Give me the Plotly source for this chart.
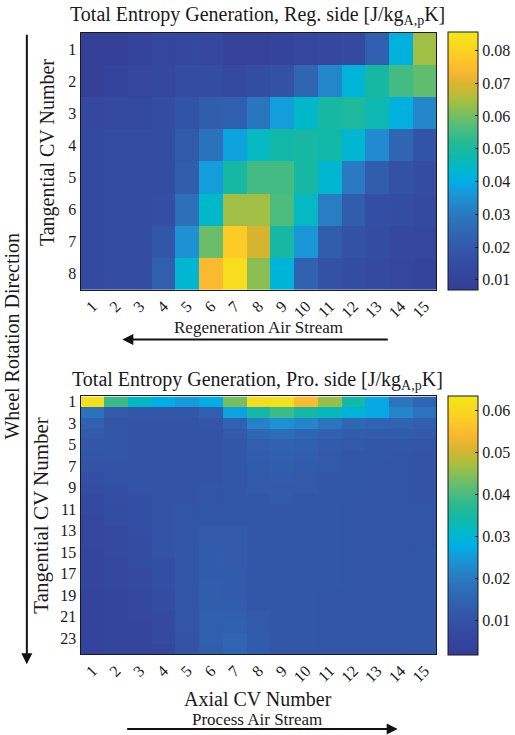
import plotly.graph_objects as go

# Axial control volumes (columns) and tangential control volumes (rows)
axial_cv = list(range(1, 16))
reg_tangential_cv = list(range(1, 9))
pro_tangential_cv = list(range(1, 25))

# Total entropy generation on the regeneration side [J/kg K], rows = tangential CV 1..8
reg_entropy = [
    [0.0085, 0.0088, 0.0105, 0.012, 0.013, 0.012, 0.0095, 0.0095, 0.010, 0.012, 0.013, 0.014, 0.022, 0.041, 0.064],
    [0.009, 0.011, 0.012, 0.013, 0.015, 0.015, 0.014, 0.015, 0.017, 0.024, 0.033, 0.042, 0.049, 0.055, 0.058],
    [0.013, 0.014, 0.014, 0.015, 0.018, 0.021, 0.022, 0.029, 0.037, 0.044, 0.049, 0.050, 0.047, 0.041, 0.033],
    [0.014, 0.015, 0.015, 0.015, 0.020, 0.028, 0.038, 0.045, 0.048, 0.049, 0.048, 0.043, 0.034, 0.024, 0.018],
    [0.014, 0.015, 0.015, 0.015, 0.021, 0.037, 0.049, 0.055, 0.055, 0.049, 0.043, 0.030, 0.021, 0.017, 0.015],
    [0.014, 0.015, 0.015, 0.016, 0.027, 0.044, 0.064, 0.064, 0.056, 0.045, 0.031, 0.021, 0.016, 0.015, 0.014],
    [0.014, 0.015, 0.015, 0.019, 0.035, 0.059, 0.078, 0.069, 0.049, 0.036, 0.021, 0.017, 0.015, 0.013, 0.012],
    [0.014, 0.015, 0.015, 0.022, 0.043, 0.074, 0.083, 0.062, 0.042, 0.023, 0.017, 0.015, 0.014, 0.012, 0.011],
]

# Total entropy generation on the process side [J/kg K], rows = tangential CV 1..24
pro_entropy = [
    [0.0615, 0.039, 0.0314, 0.0277, 0.0252, 0.0277, 0.0437, 0.061, 0.062, 0.0548, 0.046, 0.0345, 0.027, 0.019, 0.0150],
    [0.0180, 0.0118, 0.0112, 0.0112, 0.0112, 0.0137, 0.0264, 0.0345, 0.0388, 0.0345, 0.032, 0.0295, 0.027, 0.022, 0.0185],
    [0.0140, 0.0106, 0.0100, 0.0100, 0.0100, 0.0106, 0.0145, 0.0215, 0.024, 0.0221, 0.0190, 0.0160, 0.0150, 0.0145, 0.0137],
    [0.0118, 0.0106, 0.0100, 0.0100, 0.0100, 0.0100, 0.0118, 0.0160, 0.0170, 0.0155, 0.0140, 0.0130, 0.0124, 0.0124, 0.0118],
    [0.0112, 0.0106, 0.0100, 0.0100, 0.0100, 0.0100, 0.0112, 0.0137, 0.0145, 0.0140, 0.0124, 0.0118, 0.0112, 0.0112, 0.0106],
    [0.0106, 0.0106, 0.0100, 0.0100, 0.0100, 0.0100, 0.0112, 0.0130, 0.0137, 0.0130, 0.0118, 0.0112, 0.0112, 0.0106, 0.0100],
    [0.0100, 0.0100, 0.0100, 0.0100, 0.0100, 0.0100, 0.0112, 0.0124, 0.0130, 0.0124, 0.0118, 0.0112, 0.0106, 0.0106, 0.0100],
    [0.0090, 0.0100, 0.0100, 0.0100, 0.0100, 0.0100, 0.0112, 0.0118, 0.0124, 0.0118, 0.0112, 0.0112, 0.0106, 0.0106, 0.0100],
    [0.0082, 0.0090, 0.0100, 0.0100, 0.0100, 0.0106, 0.0112, 0.0118, 0.0118, 0.0118, 0.0112, 0.0112, 0.0106, 0.0106, 0.0100],
    [0.0072, 0.0090, 0.0090, 0.0100, 0.0100, 0.0106, 0.0112, 0.0112, 0.0118, 0.0112, 0.0112, 0.0112, 0.0106, 0.0106, 0.0100],
    [0.0072, 0.0082, 0.0090, 0.0100, 0.0106, 0.0112, 0.0112, 0.0112, 0.0112, 0.0112, 0.0112, 0.0106, 0.0106, 0.0106, 0.0106],
    [0.0064, 0.0082, 0.0090, 0.0100, 0.0106, 0.0112, 0.0112, 0.0112, 0.0112, 0.0112, 0.0112, 0.0106, 0.0106, 0.0106, 0.0106],
    [0.0064, 0.0072, 0.0090, 0.0100, 0.0106, 0.0118, 0.0118, 0.0112, 0.0112, 0.0112, 0.0112, 0.0106, 0.0106, 0.0106, 0.0106],
    [0.0064, 0.0072, 0.0082, 0.0100, 0.0106, 0.0118, 0.0118, 0.0112, 0.0112, 0.0112, 0.0112, 0.0106, 0.0106, 0.0106, 0.0106],
    [0.0055, 0.0072, 0.0082, 0.0100, 0.0106, 0.0124, 0.0118, 0.0112, 0.0112, 0.0112, 0.0112, 0.0106, 0.0106, 0.0106, 0.0112],
    [0.0055, 0.0064, 0.0082, 0.0090, 0.0106, 0.0124, 0.0118, 0.0112, 0.0112, 0.0112, 0.0112, 0.0106, 0.0106, 0.0106, 0.0112],
    [0.0055, 0.0064, 0.0072, 0.0090, 0.0106, 0.0124, 0.0124, 0.0112, 0.0112, 0.0112, 0.0112, 0.0106, 0.0106, 0.0106, 0.0112],
    [0.0055, 0.0064, 0.0072, 0.0090, 0.0106, 0.0130, 0.0124, 0.0112, 0.0112, 0.0112, 0.0112, 0.0106, 0.0106, 0.0106, 0.0112],
    [0.0045, 0.0055, 0.0064, 0.0082, 0.0106, 0.0130, 0.0124, 0.0112, 0.0112, 0.0112, 0.0106, 0.0106, 0.0106, 0.0106, 0.0112],
    [0.0045, 0.0055, 0.0064, 0.0082, 0.0106, 0.0130, 0.0130, 0.0112, 0.0112, 0.0112, 0.0106, 0.0106, 0.0106, 0.0106, 0.0112],
    [0.0045, 0.0055, 0.0064, 0.0072, 0.0106, 0.0137, 0.0137, 0.0118, 0.0112, 0.0112, 0.0106, 0.0106, 0.0106, 0.0106, 0.0112],
    [0.0045, 0.0055, 0.0055, 0.0072, 0.0106, 0.0137, 0.0140, 0.0118, 0.0112, 0.0112, 0.0106, 0.0106, 0.0106, 0.0106, 0.0112],
    [0.0045, 0.0055, 0.0055, 0.0072, 0.0100, 0.0137, 0.0150, 0.0124, 0.0112, 0.0112, 0.0106, 0.0106, 0.0106, 0.0106, 0.0112],
    [0.0045, 0.0055, 0.0055, 0.0064, 0.0100, 0.0130, 0.0150, 0.0124, 0.0112, 0.0112, 0.0106, 0.0106, 0.0106, 0.0106, 0.0112],
]

# Colour limits of each panel
reg_range = [0.0068, 0.0855]
pro_range = [0.0018, 0.0634]
reg_ticks = [0.01, 0.02, 0.03, 0.04, 0.05, 0.06, 0.07, 0.08]
pro_ticks = [0.01, 0.02, 0.03, 0.04, 0.05, 0.06]
pro_ytick = list(range(1, 25, 2))

# Parula-style colour map
cmap_pos = [0.00, 0.08, 0.16, 0.24, 0.31, 0.37, 0.42, 0.47, 0.52, 0.57,
            0.63, 0.69, 0.74, 0.79, 0.85, 0.92, 1.00]
cmap_rgb = [
    (53, 61, 150), (52, 72, 160), (50, 88, 170), (46, 106, 182), (40, 126, 196),
    (26, 150, 214), (0, 174, 230), (0, 184, 204), (16, 184, 170), (36, 185, 148),
    (80, 188, 124), (128, 190, 90), (172, 192, 60), (214, 180, 48), (250, 184, 48),
    (252, 208, 34), (242, 232, 24),
]
colorscale = [[p, "rgb(%d,%d,%d)" % c] for p, c in zip(cmap_pos, cmap_rgb)]

W, H = 515, 735
FONT = "Liberation Serif"
INK = "#1a1a1a"


def px_x(x):
    return x / W


def px_y(y):
    return 1 - y / H


x_dom = [px_x(81), px_x(439)]
reg_top, reg_bot = 30, 288
pro_top, pro_bot = 395, 654


def bar(top, bot, ticks):
    return dict(
        x=px_x(451), xanchor="left", xpad=0,
        y=px_y((top + bot) / 2), yanchor="middle", ypad=0,
        lenmode="pixels", len=bot - top, thickness=30,
        tickvals=ticks, tickformat=".2f", ticks="inside", ticklen=3,
        tickcolor=INK, outlinecolor=INK, outlinewidth=1,
        tickfont=dict(family=FONT, size=16, color=INK),
    )


fig = go.Figure()

fig.add_trace(go.Heatmap(
    z=reg_entropy, x=axial_cv, y=reg_tangential_cv,
    colorscale=colorscale, zmin=reg_range[0], zmax=reg_range[1],
    xaxis="x", yaxis="y", colorbar=bar(reg_top, reg_bot, reg_ticks),
))

fig.add_trace(go.Heatmap(
    z=pro_entropy, x=axial_cv, y=pro_tangential_cv,
    colorscale=colorscale, zmin=pro_range[0], zmax=pro_range[1],
    xaxis="x2", yaxis="y2", colorbar=bar(pro_top, pro_bot, pro_ticks),
))

axis_common = dict(showline=True, linecolor=INK, linewidth=1, mirror=True,
                   ticks="", showgrid=False, zeroline=False,
                   tickfont=dict(family=FONT, size=16, color=INK))

fig.update_layout(
    width=W, height=H,
    margin=dict(l=0, r=0, t=0, b=0),
    paper_bgcolor="white", plot_bgcolor="white",
    font=dict(family=FONT, color=INK),
    xaxis=dict(domain=x_dom, anchor="y", tickvals=axial_cv, tickangle=-45,
               range=[0.5, 15.5], **axis_common),
    yaxis=dict(domain=[px_y(reg_bot), px_y(reg_top)], anchor="x",
               tickvals=reg_tangential_cv, range=[8.5, 0.5], **axis_common),
    xaxis2=dict(domain=x_dom, anchor="y2", tickvals=axial_cv, tickangle=-45,
                range=[0.5, 15.5], **axis_common),
    yaxis2=dict(domain=[px_y(pro_bot), px_y(pro_top)], anchor="x2",
                tickvals=pro_ytick, range=[24.5, 0.5], **axis_common),
)

annotations = [
    dict(text="Total Entropy Generation, Reg. side [J/kg<sub>A,p</sub>K]",
         x=px_x(259), y=px_y(13), font=dict(size=20)),
    dict(text="Total Entropy Generation, Pro. side [J/kg<sub>A,p</sub>K]",
         x=px_x(259), y=px_y(379), font=dict(size=20)),
    dict(text="Tangential CV Number", textangle=-90,
         x=px_x(48), y=px_y(150), font=dict(size=20)),
    dict(text="Tangential CV Number", textangle=-90,
         x=px_x(41), y=px_y(515), font=dict(size=21)),
    dict(text="Wheel Rotation Direction", textangle=-90,
         x=px_x(12), y=px_y(334), font=dict(size=20)),
    dict(text="Regeneration Air Stream",
         x=px_x(260), y=px_y(326), font=dict(size=17)),
    dict(text="Axial CV Number",
         x=px_x(260), y=px_y(699), font=dict(size=20)),
    dict(text="Process Air Stream",
         x=px_x(259), y=px_y(719), font=dict(size=17)),
]
for a in annotations:
    a.update(xref="paper", yref="paper", showarrow=False,
             xanchor="center", yanchor="middle")
    a["font"].update(family=FONT, color=INK)

# Direction arrows: tip position (px) and tail position (px)
arrow_tips = [(123, 338), (400, 729), (27, 664)]
arrow_tails = [(390, 338), (128, 729), (27, 33)]
arrows = []
for (tx, ty), (sx, sy) in zip(arrow_tips, arrow_tails):
    arrows.append(dict(
        x=px_x(tx), y=px_y(ty), xref="paper", yref="paper",
        ax=sx - tx, ay=sy - ty, axref="pixel", ayref="pixel",
        text="", showarrow=True, arrowhead=2, arrowsize=1.1,
        arrowwidth=2, arrowcolor="#111"))

fig.update_layout(annotations=annotations + arrows)

fig.write_html("out.html")
